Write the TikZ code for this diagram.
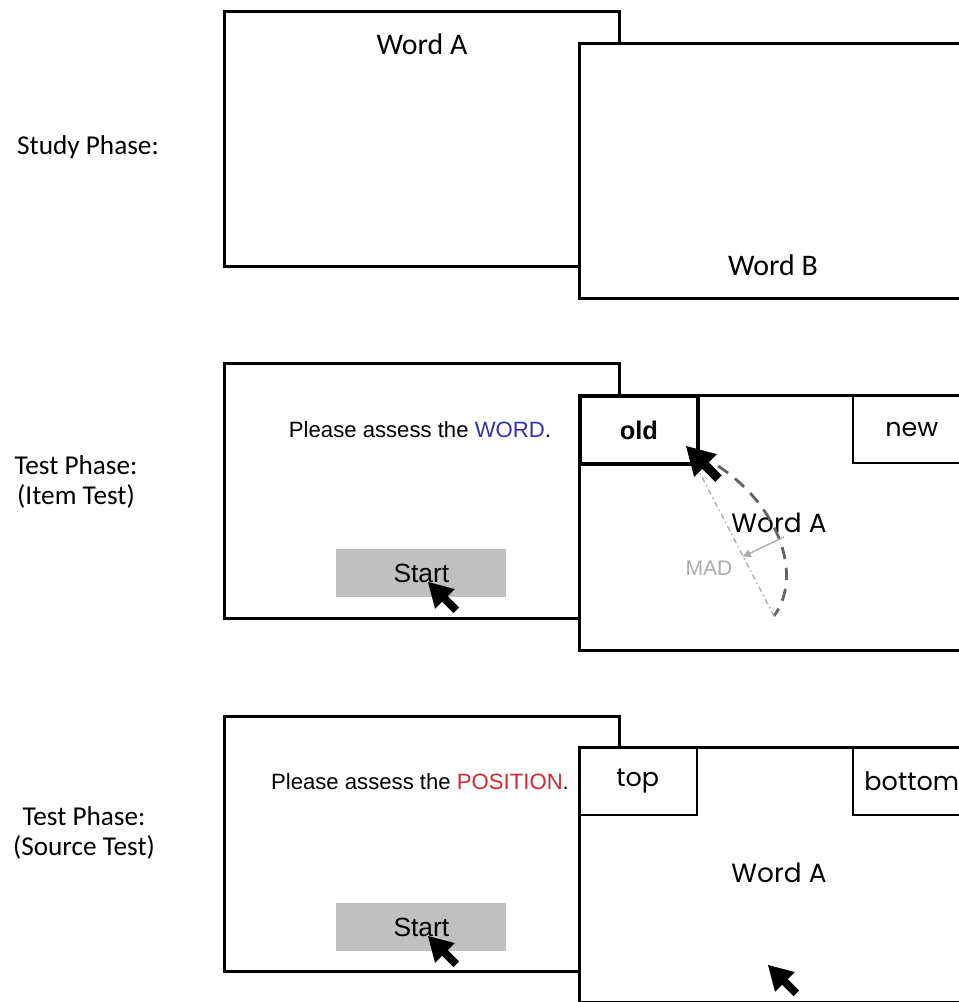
\documentclass[tikz,border=0pt]{standalone}
\usepackage{fontspec}
\setmainfont{Carlito}
\newfontfamily\arialfont{Liberation Sans}
\newfontfamily\gothfont{Poppins}
\usetikzlibrary{positioning, arrows.meta}
\definecolor{wordblue}{RGB}{52,48,178}
\definecolor{posred}{RGB}{206,42,50}
\definecolor{madgray}{RGB}{172,172,172}
\definecolor{btngray}{RGB}{192,192,192}
\definecolor{draggray}{RGB}{100,100,100}
\tikzset{
  screen/.style={draw, fill=white, line width=1.7pt, anchor=north west,
    inner sep=0pt, minimum width=7.9cm, minimum height=5.1cm},
  choice/.style={draw, line width=0.9pt, anchor=north west, inner sep=0pt,
    minimum width=2.36cm, minimum height=1.37cm, font=\gothfont\fontsize{14.5}{17}\selectfont},
  startbtn/.style={fill=btngray, anchor=north west, inner sep=0pt,
    minimum width=3.4cm, minimum height=0.96cm},
  phase/.style={align=center, font=\fontsize{15.5}{17.5}\selectfont},
  studyword/.style={font=\fontsize{17}{20}\selectfont},
  testword/.style={font=\gothfont\fontsize{15}{18}\selectfont},
  prompt/.style={font=\arialfont\fontsize{12.6}{15}\selectfont},
  starttext/.style={font=\arialfont\fontsize{15}{18}\selectfont},
  dragline/.style={draggray, line width=1.6pt, dash pattern=on 7pt off 5pt},
  directline/.style={madgray, line width=0.8pt, dash pattern=on 3pt off 2pt on 0.8pt off 2pt},
  madarrow/.style={madgray, line width=0.8pt, -{Latex[length=5pt,width=5pt]}},
  mousecursor/.pic={
    \fill[black] (0,0) -- (26.87,7.07) -- (19.8,14.14) -- (31.11,25.46)
      -- (25.46,31.11) -- (14.14,19.8) -- (7.07,26.87) -- cycle;}
}
\begin{document}
\begin{tikzpicture}[x=0.02cm, y=-0.02cm]
  \useasboundingbox (0,0) rectangle (959,1002);
  % study phase
  \node[phase] (studylbl) at (88,147) {Study Phase:};
  \node[screen] (studyA) at (223,10) {};
  \node[screen] (studyB) at (578,42) {};
  \node[studyword] (wordA) at (422,44) {Word A};
  \node[studyword] (wordB) at (773,265) {Word B};

  % item test
  \node[phase] (itemlbl) at (76,482) {Test Phase:\\(Item Test)};
  \node[screen] (itemL) at (223,362) {};
  \node[prompt] (itemask) at (420,430) {Please assess the \textcolor{wordblue}{WORD}.};
  \node[startbtn] (itemstart) at (336,549) {};
  \node[starttext] at (itemstart.center) {Start};
  \pic at (428,582) {mousecursor};
  \node[screen] (itemR) at (578,394) {};
  \node[choice, line width=2.2pt, font=\arialfont\bfseries\fontsize{14.5}{17}\selectfont] (old) at (578,394) {old};
  \node[choice] (new) at (852,394) {new};
  \node[testword] (itemword) at (779,523) {Word A};
  \node[font=\arialfont\fontsize{12}{14}\selectfont, text=madgray] (mad) at (709,568) {MAD};
  \coordinate (dragstart) at (718,466);
  \coordinate (dragend) at (774,616);
  \coordinate (oldtip) at (688,450);
  \coordinate (madfrom) at (784,537);
  \coordinate (madto) at (742,557);
  \draw[dragline] (dragstart) .. controls (778,505) and (804,575) .. (dragend);
  \draw[directline] (dragend) -- (oldtip);
  \draw[madarrow] (madfrom) -- (madto);
  \pic[scale=1.15] at (686,446) {mousecursor};

  % source test
  \node[phase] (sourcelbl) at (84,833) {Test Phase:\\(Source Test)};
  \node[screen] (srcL) at (223,715) {};
  \node[prompt] (srcask) at (420,782) {Please assess the \textcolor{posred}{POSITION}.};
  \node[startbtn] (srcstart) at (336,903) {};
  \node[starttext] at (srcstart.center) {Start};
  \pic at (428,936) {mousecursor};
  \node[screen] (srcR) at (578,746) {};
  \node[choice] (top) at (578,746) {top};
  \node[choice] (bottom) at (852,746) {bottom};
  \node[testword] (srcword) at (779,873) {Word A};
  \pic at (768,965) {mousecursor};
\end{tikzpicture}
\end{document}
